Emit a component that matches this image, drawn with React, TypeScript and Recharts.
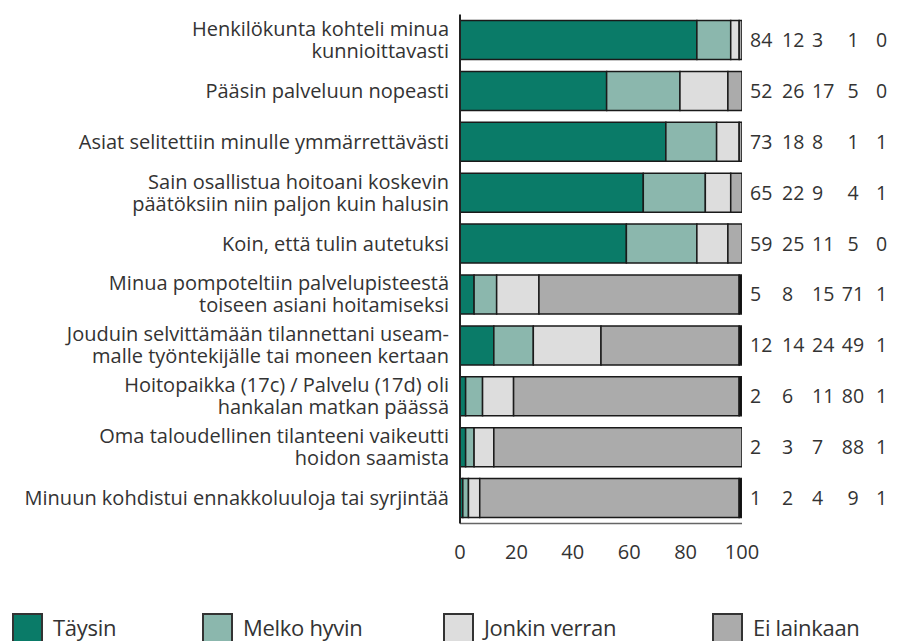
import { BarChart, Bar, XAxis, YAxis } from 'recharts';

// Statements (explicit line breaks as in the source figure)
const statements = [
  'Henkilökunta kohteli minua\nkunnioittavasti',
  'Pääsin palveluun nopeasti',
  'Asiat selitettiin minulle ymmärrettävästi',
  'Sain osallistua hoitoani koskevin\npäätöksiin niin paljon kuin halusin',
  'Koin, että tulin autetuksi',
  'Minua pompoteltiin palvelupisteestä\ntoiseen asiani hoitamiseksi',
  'Jouduin selvittämään tilannettani useam-\nmalle työntekijälle tai moneen kertaan',
  'Hoitopaikka (17c) / Palvelu (17d) oli\nhankalan matkan päässä',
  'Oma taloudellinen tilanteeni vaikeutti\nhoidon saamista',
  'Minuun kohdistui ennakkoluuloja tai syrjintää',
];

const taysin = [84, 52, 73, 65, 59, 5, 12, 2, 2, 1];
const melkoHyvin = [12, 26, 18, 22, 25, 8, 14, 6, 3, 2];
const jonkinVerran = [3, 17, 8, 9, 11, 15, 24, 11, 7, 4];
// last row is printed as "9" in the source, the bar itself runs to 100
const eiLainkaan = [1, 5, 1, 4, 5, 71, 49, 80, 88, 92];
const eos = [0, 0, 1, 1, 0, 1, 1, 1, 1, 1];

// numbers as printed to the right of the bars
const printedValues = [
  ['84', '12', '3', '1', '0'],
  ['52', '26', '17', '5', '0'],
  ['73', '18', '8', '1', '1'],
  ['65', '22', '9', '4', '1'],
  ['59', '25', '11', '5', '0'],
  ['5', '8', '15', '71', '1'],
  ['12', '14', '24', '49', '1'],
  ['2', '6', '11', '80', '1'],
  ['2', '3', '7', '88', '1'],
  ['1', '2', '4', '9', '1'],
];

const xTicks = [0, 20, 40, 60, 80, 100];

const series = [
  { key: 'taysin', name: 'Täysin', color: '#0a7b68', legend: true },
  { key: 'melko', name: 'Melko hyvin', color: '#8bb7ad', legend: true },
  { key: 'jonkin', name: 'Jonkin verran', color: '#dddddd', legend: true },
  { key: 'ei', name: 'Ei lainkaan', color: '#ababab', legend: true },
  { key: 'eos', name: 'Ei vastausta', color: '#111111', legend: false },
];

const data = statements.map((s, i) => ({
  statement: s,
  taysin: taysin[i],
  melko: melkoHyvin[i],
  jonkin: jonkinVerran[i],
  ei: eiLainkaan[i],
  eos: eos[i],
}));

const FONT = '"Open Sans", sans-serif';
const TEXT = '#333333';
const FS = 20;

const StatementTick = ({ x, y, payload }: any) => {
  const lines = String(payload.value).split('\n');
  const lh = 22;
  const first = y - ((lines.length - 1) * lh) / 2 + 7;
  return (
    <text x={x} y={first} textAnchor="end" fontFamily={FONT} fontSize={FS} fill={TEXT}>
      {lines.map((l, i) => (
        <tspan key={i} x={x} y={first + i * lh}>{l}</tspan>
      ))}
    </text>
  );
};

const valueCols = [
  { dx: 0, anchor: 'start' },
  { dx: 32, anchor: 'start' },
  { dx: 62, anchor: 'start' },
  { dx: 103, anchor: 'middle' },
  { dx: 126, anchor: 'start' },
];

const ValuesTick = ({ x, y, index }: any) => {
  const row = printedValues[index] || [];
  return (
    <g>
      {row.map((v, i) => (
        <text key={i} x={x + valueCols[i].dx} y={y + 7} textAnchor={valueCols[i].anchor as any}
          fontFamily={FONT} fontSize={19.5} fill={TEXT}>{v}</text>
      ))}
    </g>
  );
};

const legendPos = [12, 202, 443, 712];

export default function App() {
  return (
    <div style={{ position: 'relative', width: 898, height: 641, background: '#fff', overflow: 'hidden' }}>
      <style>{'body{margin:0}'}</style>
      <BarChart
        width={898}
        height={641}
        data={data}
        layout="vertical"
        margin={{ top: 14.5, right: 0, left: 0, bottom: 87.5 }}
        barSize={39}
      >
        <XAxis
          type="number"
          domain={[0, 100]}
          ticks={xTicks}
          allowDataOverflow
          height={30}
          tickLine={false}
          tickSize={0}
          tickMargin={21}
          axisLine={{ stroke: '#666', strokeWidth: 1.5 }}
          tick={{ fontFamily: FONT, fontSize: FS, fill: TEXT }}
        />
        <YAxis
          yAxisId="left"
          type="category"
          dataKey="statement"
          width={460}
          tickLine={false}
          tickSize={0}
          tickMargin={11}
          axisLine={{ stroke: '#222', strokeWidth: 2 }}
          tick={<StatementTick />}
          interval={0}
        />
        <YAxis
          yAxisId="right"
          orientation="right"
          type="category"
          dataKey="statement"
          width={156}
          tickLine={false}
          tickSize={0}
          tickMargin={8}
          axisLine={false}
          tick={<ValuesTick />}
          interval={0}
        />
        {series.map((s) => (
          <Bar
            key={s.key}
            yAxisId="left"
            dataKey={s.key}
            name={s.name}
            stackId="a"
            fill={s.color}
            stroke="#1a1a1a"
            strokeWidth={1.5}
            isAnimationActive={false}
          />
        ))}
      </BarChart>
      {series.filter((s) => s.legend).map((s, i) => (
        <div key={s.key} style={{ position: 'absolute', left: legendPos[i], top: 613, display: 'flex', alignItems: 'flex-start' }}>
          <div style={{ width: 31, height: 34, background: s.color, border: '2px solid #333', boxSizing: 'border-box' }} />
          <span style={{ marginLeft: 10, marginTop: 3, fontFamily: FONT, fontSize: 22, color: TEXT, lineHeight: '22px', letterSpacing: -0.3 }}>{s.name}</span>
        </div>
      ))}
    </div>
  );
}
